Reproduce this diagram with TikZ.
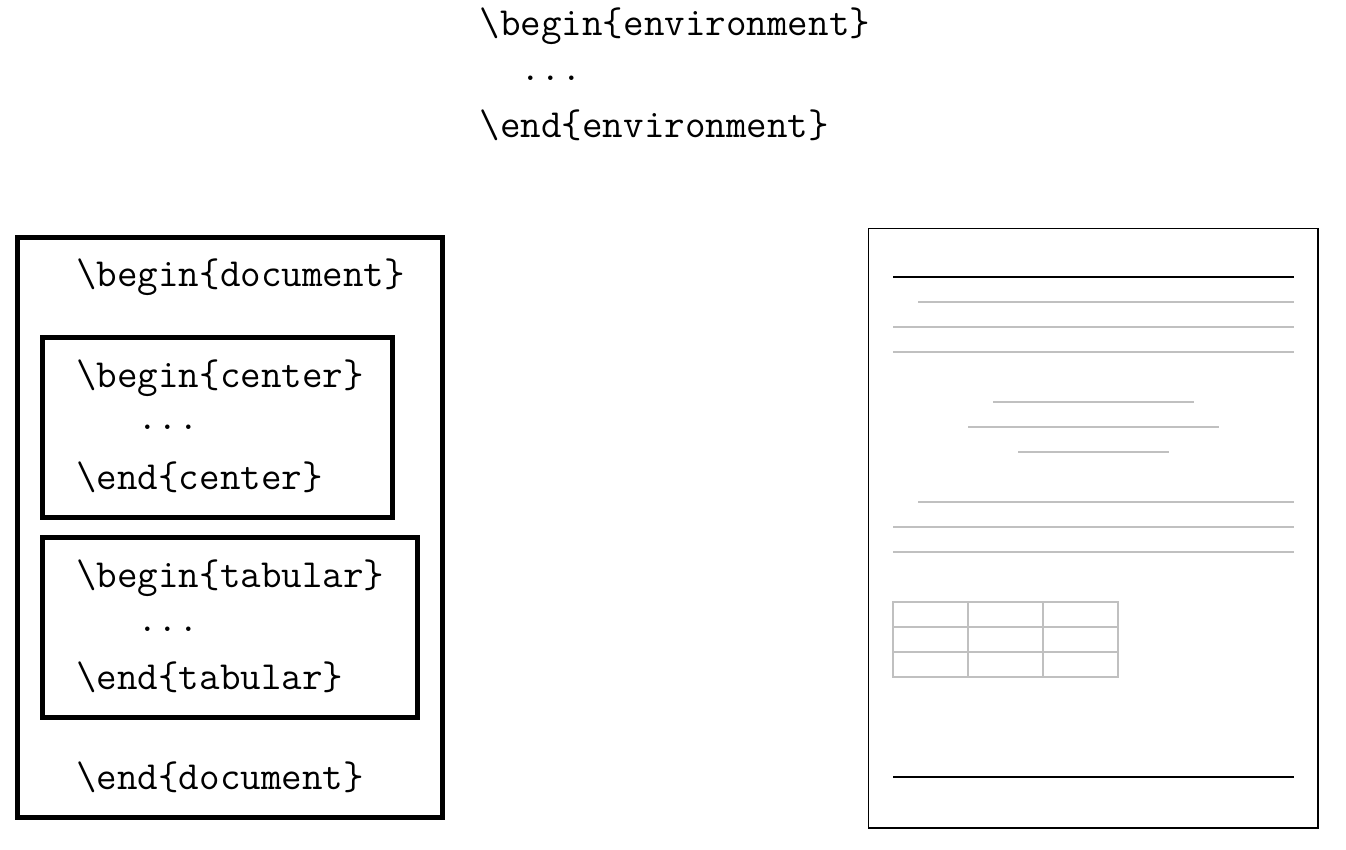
\documentclass[tikz,border=0pt]{standalone}
\usepackage{fontspec}
\definecolor{pagegray}{RGB}{192,192,192}
\begin{document}
\begin{tikzpicture}[x=1pt,y=-1pt,
  code/.style={anchor=base west,inner sep=0pt,font=\fontsize{39.9}{46}\selectfont\ttfamily},
  envbox/.style={draw=black,line width=5pt},
  pageframe/.style={draw=black,line width=1.3pt},
  blackrule/.style={draw=black,line width=1.3pt},
  grayrule/.style={draw=pagegray,line width=1.1pt}]
\path[use as bounding box] (0,0) rectangle (1346,850);

% top generic environment
\node[code] (envb) at (479.5,36) {\textbackslash begin\{environment\}};
\node[code] (envd) at (520,81) {...};
\node[code] (enve) at (479.5,138) {\textbackslash end\{environment\}};

% left nested boxes
\draw[envbox] (17.5,238) rectangle (442.5,817.5);
\draw[envbox] (42.5,337.5) rectangle (392.5,517.5);
\draw[envbox] (42.5,537.5) rectangle (417.5,717.5);

\node[code] (docb) at (76,287) {\textbackslash begin\{document\}};
\node[code] (cenb) at (76,387) {\textbackslash begin\{center\}};
\node[code] (cend) at (137,429) {...};
\node[code] (cene) at (76,489) {\textbackslash end\{center\}};
\node[code] (tabb) at (76,587) {\textbackslash begin\{tabular\}};
\node[code] (tabd) at (137,631) {...};
\node[code] (tabe) at (76,689) {\textbackslash end\{tabular\}};
\node[code] (doce) at (76,789) {\textbackslash end\{document\}};

% right page sketch
\draw[pageframe] (868.5,228.5) rectangle (1318,828);
\draw[blackrule] (893,277) -- (1294,277);
\draw[grayrule] (918,302) -- (1294,302);
\draw[grayrule] (893,327) -- (1294,327);
\draw[grayrule] (893,352) -- (1294,352);
\draw[grayrule] (993,402) -- (1194,402);
\draw[grayrule] (968,427) -- (1219,427);
\draw[grayrule] (1018,452) -- (1169,452);
\draw[grayrule] (918,502) -- (1294,502);
\draw[grayrule] (893,527) -- (1294,527);
\draw[grayrule] (893,552) -- (1294,552);
\draw[grayrule] (893,602) rectangle (1118,677);
\draw[grayrule] (893,627) -- (1118,627);
\draw[grayrule] (893,652) -- (1118,652);
\draw[grayrule] (968,602) -- (968,677);
\draw[grayrule] (1043,602) -- (1043,677);
\draw[blackrule] (893,777) -- (1294,777);
\end{tikzpicture}
\end{document}
